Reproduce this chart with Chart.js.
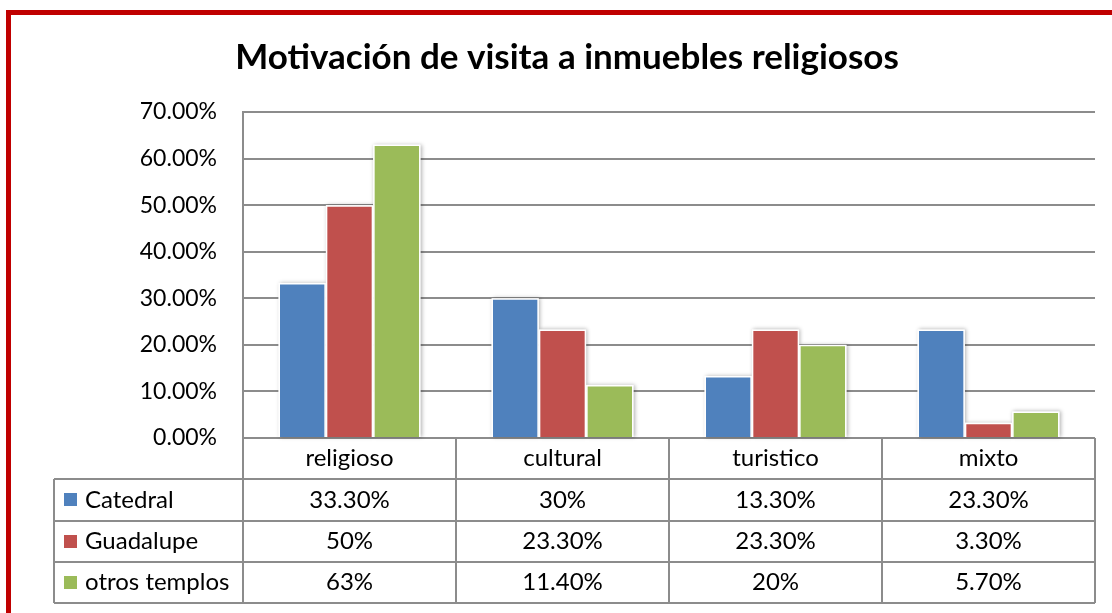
<!DOCTYPE html>
<html lang="es">
<head>
<meta charset="UTF-8">
<title>Motivación de visita a inmuebles religiosos</title>
<script src="https://cdn.jsdelivr.net/npm/chart.js@4.4.1/dist/chart.umd.min.js"></script>
<style>
  html, body { margin: 0; padding: 0; background: #fff; }
  #wrap { position: relative; width: 1112px; height: 613px; overflow: hidden; }
  #marco { position: absolute; left: 6px; top: 10px; width: 1200px; height: 700px; border: 5px solid #c00000; pointer-events: none; }
</style>
</head>
<body>
<div id="wrap">
  <canvas id="grafica" width="1112" height="613"></canvas>
  <div id="marco"></div>
</div>
<script>
// Datos de la encuesta (%)
const categorias = ['religioso', 'cultural', 'turistico', 'mixto'];
const nombresSeries = ['Catedral', 'Guadalupe', 'otros templos'];
const catedral = [33.3, 30, 13.3, 23.3];
const guadalupe = [50, 23.3, 23.3, 3.3];
const otrosTemplos = [63, 11.4, 20, 5.7];
const valoresEjeY = [0, 10, 20, 30, 40, 50, 60, 70];

// Estilo
const colores = ['#4f81bd', '#c0504d', '#9bbb59'];
const colorLinea = '#8c8c8c';
const fuente = 'Lato, "Open Sans", sans-serif';
const tamEje = 23;
const tamTabla = 24;

// Formato de la tabla: enteros sin decimales, el resto con dos
function formatoTabla(v) {
    return Number.isInteger(v) ? v + '%' : v.toFixed(2) + '%';
}

// Sombra suave detrás de cada barra
const sombraBarras = {
    id: 'sombraBarras',
    beforeDatasetsDraw(chart) {
        const ctx = chart.ctx;
        ctx.save();
        ctx.shadowColor = 'rgba(0, 0, 0, 0.3)';
        ctx.shadowBlur = 4;
        ctx.shadowOffsetX = 1;
        ctx.shadowOffsetY = 0;
        ctx.fillStyle = '#fff';
        chart.data.datasets.forEach((ds, i) => {
            chart.getDatasetMeta(i).data.forEach(bar => {
                const p = bar.getProps(['x', 'y', 'base', 'width'], true);
                ctx.fillRect(p.x - p.width / 2, p.y, p.width, p.base - p.y);
            });
        });
        ctx.restore();
    }
};

// Tabla de datos bajo el eje X (categorías + una fila por serie)
const tablaDatos = {
    id: 'tablaDatos',
    afterDraw(chart, args, opts) {
        const ctx = chart.ctx;
        const area = chart.chartArea;
        const escalaX = chart.scales.x;
        const alto = opts.altoFila;
        const izq = opts.izquierda;
        const ancho = (area.right - area.left) / categorias.length;
        const y0 = area.bottom;
        const series = chart.data.datasets;
        const yFin = y0 + alto * (series.length + 1);

        ctx.save();
        ctx.strokeStyle = colorLinea;
        ctx.lineWidth = 2;
        ctx.beginPath();
        for (let f = 1; f <= series.length + 1; f++) {
            const y = Math.round(y0 + alto * f);
            ctx.moveTo(izq, y);
            ctx.lineTo(area.right, y);
        }
        ctx.moveTo(izq, Math.round(y0 + alto));
        ctx.lineTo(izq, Math.round(yFin));
        for (let i = 0; i <= categorias.length; i++) {
            const x = Math.round(area.left + ancho * i);
            ctx.moveTo(x, y0);
            ctx.lineTo(x, Math.round(yFin));
        }
        ctx.stroke();

        ctx.font = tamTabla + 'px ' + fuente;
        ctx.fillStyle = '#000';
        ctx.textBaseline = 'middle';

        // fila de categorías
        ctx.textAlign = 'center';
        categorias.forEach((c, i) => {
            ctx.fillText(c, escalaX.getPixelForValue(i), y0 + alto / 2);
        });

        // filas de series
        series.forEach((ds, s) => {
            const yc = y0 + alto * (s + 1.5);
            ctx.fillStyle = ds.backgroundColor;
            ctx.fillRect(izq + 10, Math.round(yc - 6.5), 13, 13);
            ctx.fillStyle = '#000';
            ctx.textAlign = 'left';
            ctx.fillText(ds.label, izq + 31, yc);
            ctx.textAlign = 'center';
            ds.data.forEach((v, i) => {
                ctx.fillText(formatoTabla(v), escalaX.getPixelForValue(i), yc);
            });
        });
        ctx.restore();
    }
};

const ctx = document.getElementById('grafica').getContext('2d');
const chart = new Chart(ctx, {
    type: 'bar',
    data: {
        labels: categorias,
        datasets: [catedral, guadalupe, otrosTemplos].map((serie, i) => ({
            label: nombresSeries[i],
            data: serie,
            backgroundColor: colores[i],
            borderColor: '#ffffff',
            borderWidth: 1.5,
            categoryPercentage: 3 / 4.5,
            barPercentage: 1
        }))
    },
    options: {
        responsive: false,
        animation: false,
        layout: {
            padding: { left: 39, right: 17, top: 0, bottom: 175 }
        },
        scales: {
            x: {
                display: false
            },
            y: {
                min: 0,
                max: 70,
                afterFit(scale) {
                    scale.width = 204;
                },
                afterBuildTicks(scale) {
                    scale.ticks = valoresEjeY.map(v => ({ value: v }));
                },
                ticks: {
                    padding: 26,
                    color: '#000',
                    font: { family: fuente, size: tamEje },
                    callback: v => v.toFixed(2) + '%'
                },
                grid: {
                    color: colorLinea,
                    lineWidth: 2,
                    drawTicks: false
                },
                border: {
                    color: colorLinea,
                    width: 2
                }
            }
        },
        plugins: {
            legend: { display: false },
            tooltip: { enabled: false },
            title: {
                display: true,
                text: 'Motivación de visita a inmuebles religiosos',
                color: '#000',
                font: { family: fuente, size: 35, weight: 'bold' },
                padding: { top: 37, bottom: 33 }
            },
            tablaDatos: {
                altoFila: 41.25,
                izquierda: 54
            }
        }
    },
    plugins: [sombraBarras, tablaDatos]
});
</script>
</body>
</html>
